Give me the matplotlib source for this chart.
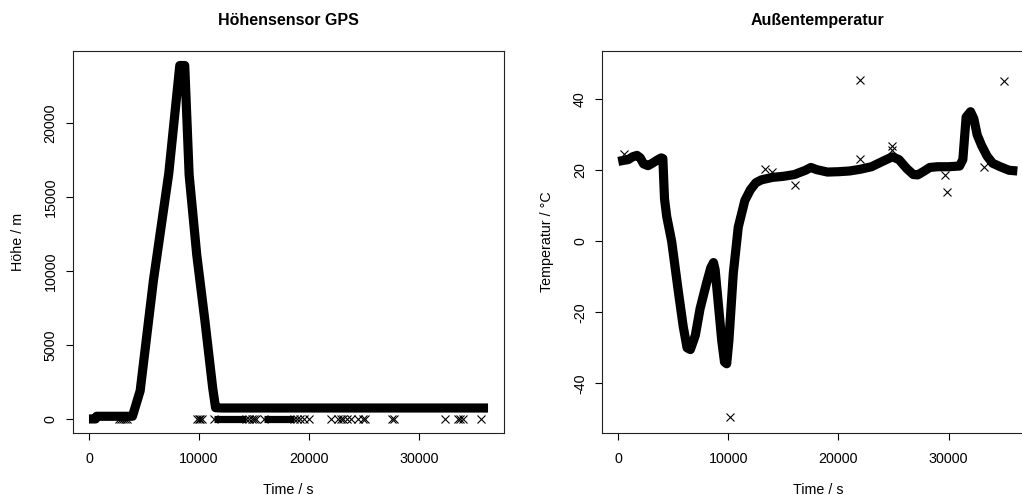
import matplotlib
matplotlib.use("Agg")
import matplotlib.pyplot as plt

plt.rcParams['font.family'] = ['Liberation Sans', 'DejaVu Sans']

# ---------------- data: GPS altitude ----------------
gps_time = [0, 600, 700, 3950, 4650, 5860, 7250, 8250, 8700, 9100, 9790, 10540, 11240, 11500, 12000, 36250]
gps_height = [0, 0, 180, 180, 1900, 9400, 16600, 23900, 23900, 16500, 11100, 6590, 2090, 760, 740, 740]

gps_zero_band_start = [11400, 15900]
gps_zero_band_end = [14300, 18600]
gps_zero_times = [2700, 2900, 3100, 3300, 3500, 9800, 9950, 10100, 10250,
                  14500, 14800, 15000, 15200, 18900, 19200, 19500, 20000,
                  22000, 22600, 22900, 23100, 23400, 23800, 24400, 24900, 25100,
                  27500, 27700, 32300, 33500, 33700, 34000, 35600]

# ---------------- data: outside temperature ----------------
temp_time = [0, 500, 900, 1300, 1700, 2000, 2300, 2700, 3100, 3500, 3900, 4050,
             4200, 4400, 4850, 5450, 5900, 6250, 6550, 7000, 7430, 8000, 8400, 8650,
             8800, 9100, 9400, 9650, 9850, 10050, 10450, 10900, 11500, 12000, 12500,
             13000, 14000, 15000, 16000, 17000, 17500, 18000, 19000, 20000, 21000,
             22000, 23000, 24000, 24900, 25500, 26200, 26800, 27200, 27800, 28300,
             29000, 30000, 31000, 31300, 31600, 32000, 32300, 32600, 33000, 33500,
             34000, 34700, 35500, 36250]
temp_value = [22.5, 22.8, 23.0, 23.8, 24.2, 23.5, 21.8, 21.3, 22.0, 22.8, 23.5, 23.3,
              12.0, 7.0, 0.0, -14.0, -24.0, -30.0, -30.5, -26.5, -19.0, -12.0, -7.5, -6.0,
              -8.0, -18.0, -28.0, -34.0, -34.5, -28.0, -9.0, 4.0, 11.5, 14.5, 16.5,
              17.3, 18.0, 18.3, 18.8, 20.0, 20.8, 20.2, 19.5, 19.6, 19.8,
              20.3, 21.0, 22.5, 23.8, 23.0, 20.5, 18.8, 18.7, 19.8, 20.8,
              21.0, 21.0, 21.2, 23.0, 35.0, 36.5, 34.5, 30.0, 27.0, 24.0,
              22.0, 21.0, 20.0, 19.8]

temp_outlier_time = [520, 22000, 35050, 10150, 13330, 14000, 16090, 21920, 24830, 24830, 29640, 29880, 33250]
temp_outlier_value = [24.6, 45.4, 45.2, -49.4, 20.4, 19.6, 15.9, 23.1, 26.9, 25.7, 18.7, 14.0, 21.0]

x_ticks = [0, 10000, 20000, 30000]
gps_y_ticks = [0, 5000, 10000, 15000, 20000]
temp_y_ticks = [-40, -20, 0, 20, 40]

# ---------------- figure ----------------
W, H = 1022, 495
fig = plt.figure(figsize=(W / 100, H / 100), dpi=100)

ax1 = fig.add_axes([73 / W, (H - 433) / H, 431 / W, 382 / H])
ax2 = fig.add_axes([602.3 / W, (H - 433) / H, 431 / W, 382 / H])

band_lw = 6.6
mk = dict(marker='x', linestyle='none', color='black', markersize=5.4, markeredgewidth=0.8)

# left panel
ax1.plot(gps_time, gps_height, color='black', lw=band_lw, solid_joinstyle='round', solid_capstyle='butt')
for s, e in zip(gps_zero_band_start, gps_zero_band_end):
    ax1.plot([s, e], [0, 0], color='black', lw=5.2, solid_capstyle='butt')
    ax1.plot([s, e], [0, 0], **mk)
ax1.plot(gps_zero_times, [0] * len(gps_zero_times), **mk)

# right panel
ax2.plot(temp_time, temp_value, color='black', lw=band_lw, solid_joinstyle='round', solid_capstyle='butt')
ax2.plot(temp_outlier_time, temp_outlier_value, **mk)

xlim = (-1450, 37700)
for ax, yt, ylim, title, ylabel in [
    (ax1, gps_y_ticks, (-950, 24880), 'Höhensensor GPS', 'Höhe / m'),
    (ax2, temp_y_ticks, (-54, 53.6), 'Außentemperatur', 'Temperatur / °C'),
]:
    ax.set_xlim(*xlim)
    ax.set_ylim(*ylim)
    ax.set_xticks(x_ticks)
    ax.set_xticklabels([str(v) for v in x_ticks])
    ax.set_yticks(yt)
    ax.set_yticklabels([str(v) for v in yt], rotation=90, va='center')
    ax.tick_params(axis='both', direction='out', length=5, width=0.8, labelsize=10.3, colors='black')
    ax.tick_params(axis='x', pad=9)
    ax.tick_params(axis='y', pad=6)
    for sp in ax.spines.values():
        sp.set_linewidth(0.8)
        sp.set_color('#222222')
    ax.set_title(title, fontsize=11.5, fontweight='bold', pad=19)
    ax.set_xlabel('Time / s', fontsize=10.3)
    ax.xaxis.set_label_coords(0.5, (433 - 490) / 382)
    ax.xaxis.label.set_va('center')
    ax.set_ylabel(ylabel, fontsize=10.3)
    ax.yaxis.set_label_coords((18 - 73) / 431, 0.5)
    ax.yaxis.label.set_va('center')

fig.savefig('out.png', dpi=100)
